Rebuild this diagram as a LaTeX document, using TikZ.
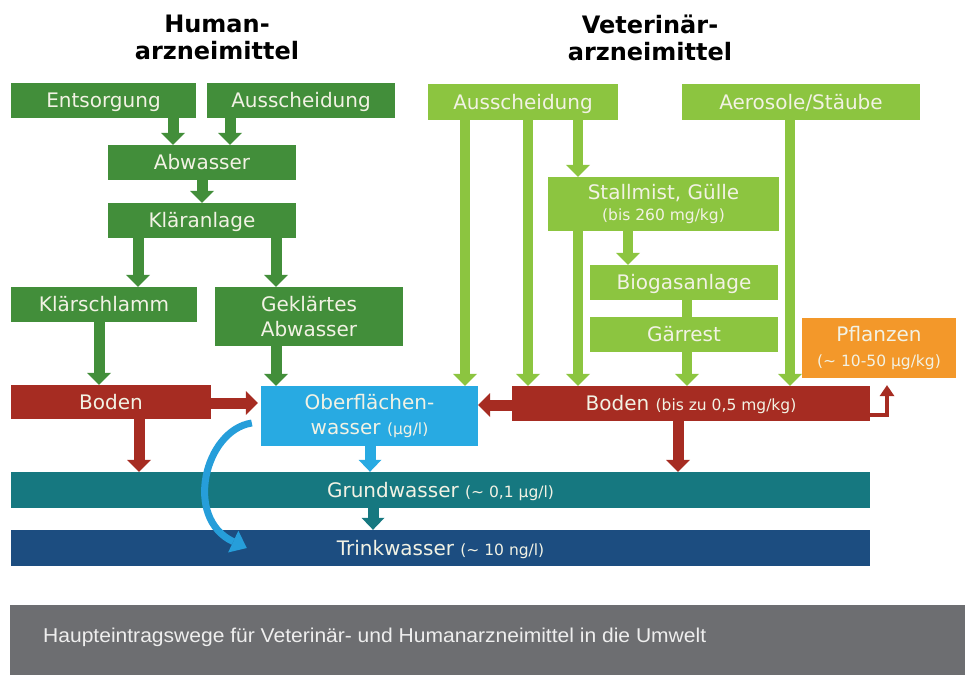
\documentclass[tikz,border=0pt]{standalone}
\usepackage{fontspec}
\usepackage{graphicx}
\setmainfont{DejaVu Sans}
\newfontfamily\capfont{Liberation Sans}
\usetikzlibrary{arrows.meta}
\definecolor{dgreen}{RGB}{66,142,58}
\definecolor{lgreen}{RGB}{140,197,64}
\definecolor{dred}{RGB}{166,44,34}
\definecolor{lblue}{RGB}{40,170,226}
\definecolor{cblue}{RGB}{38,158,218}
\definecolor{teal}{RGB}{22,120,128}
\definecolor{nblue}{RGB}{28,77,128}
\definecolor{orng}{RGB}{243,152,42}
\definecolor{capgray}{RGB}{109,110,113}
\definecolor{captext}{RGB}{238,238,238}
\definecolor{boxtext}{RGB}{242,242,228}
\newcommand\smtxt{\fontsize{15.5}{17}\selectfont}
\tikzset{
  box/.style={rectangle, inner sep=0pt, text=boxtext, font=\fontsize{20}{25}\selectfont},
  one/.style={text height=16pt, text depth=2pt},
  hbox/.style={box, fill=dgreen},
  vbox/.style={box, fill=lgreen},
  titlenode/.style={inner sep=0pt, align=center, font=\fontsize{24}{27}\selectfont\bfseries},
  tip/.style={-{Triangle[width=#1,length=12pt,line width=0pt]}},
  garr/.style={dgreen, line width=11pt, tip=24pt},
  larr/.style={lgreen, line width=10pt, tip=24pt},
  lline/.style={lgreen, line width=10pt},
  rarr/.style={dred, line width=11pt, tip=24pt},
  barr/.style={lblue, line width=11pt, tip=23pt},
  tarr/.style={teal, line width=11pt, tip=23pt},
}
\begin{document}
\begin{tikzpicture}[x=1pt,y=-1pt]
\useasboundingbox (0,0) rectangle (965,675);

% titles
\node[titlenode] (th) at (217,37.5) {Human-\\arzneimittel};
\node[titlenode] (tv) at (650,37.5) {Veterinär-\\arzneimittel};

% human side
\node[hbox, one, minimum width=185pt, minimum height=35pt] (entsorg) at (103.5,100.5) {Entsorgung};
\node[hbox, one, minimum width=188pt, minimum height=35pt] (ausH) at (301,100.5) {Ausscheidung};
\node[hbox, one, minimum width=188pt, minimum height=35pt] (abw) at (202,162.5) {Abwasser};
\node[hbox, one, minimum width=188pt, minimum height=35pt] (klaer) at (202,220.5) {Kläranlage};
\node[hbox, one, minimum width=186pt, minimum height=35pt] (klschl) at (104,304.5) {Klärschlamm};
\node[hbox, align=center, minimum width=188pt, minimum height=59pt] (gekl) at (309,316.5) {Geklärtes\\Abwasser};

% vet side
\node[vbox, one, minimum width=190pt, minimum height=36pt] (ausV) at (523,102) {Ausscheidung};
\node[vbox, one, minimum width=238pt, minimum height=36pt] (aero) at (801,102) {Aerosole/Stäube};
\node[vbox, align=center, minimum width=231pt, minimum height=54pt] (stall) at (663.5,204) {Stallmist, Gülle\\[-4pt]{\smtxt (bis 260 mg/kg)}};
\node[vbox, one, minimum width=188pt, minimum height=35pt] (biogas) at (684,282.5) {Biogasanlage};
\node[vbox, one, minimum width=188pt, minimum height=35pt] (gaer) at (684,334.5) {Gärrest};
\node[box, fill=orng, align=center, minimum width=154pt, minimum height=60pt] (pfl) at (879,348) {Pflanzen\\{\smtxt (\textasciitilde{} 10-50 µg/kg)}};

% soil and water
\node[box, one, fill=dred, minimum width=200pt, minimum height=34pt] (bodenL) at (111,402) {Boden};
\node[box, one, fill=dred, minimum width=358pt, minimum height=35pt] (bodenR) at (691,403.5) {Boden {\smtxt (bis zu 0,5 mg/kg)}};
\node[box, fill=lblue, align=center, minimum width=217pt, minimum height=60pt] (ofw) at (369.5,416) {Oberflächen-\\wasser {\smtxt (µg/l)}};
\node[box, one, fill=teal, minimum width=859pt, minimum height=36pt] (grund) at (440.5,490) {Grundwasser {\smtxt (\textasciitilde{} 0,1 µg/l)}};
\node[box, one, fill=nblue, minimum width=859pt, minimum height=36pt] (trink) at (440.5,548) {Trinkwasser {\smtxt (\textasciitilde{} 10 ng/l)}};

% caption
\node[fill=capgray, inner sep=0pt, minimum width=955pt, minimum height=70pt] (capbar) at (487.5,640) {};
\node[anchor=west, inner sep=0pt, text=captext] (cap) at (43,637) {\resizebox{663pt}{\height}{\capfont\fontsize{20}{22}\selectfont Haupteintragswege für Veterinär- und Humanarzneimittel in die Umwelt}};

% human arrows
\draw[garr] (173,0 |- entsorg.south) -- (173,0 |- abw.north);
\draw[garr] (230,0 |- ausH.south) -- (230,0 |- abw.north);
\draw[garr] (202,0 |- abw.south) -- (202,0 |- klaer.north);
\draw[garr] (138,0 |- klaer.south) -- (138,0 |- klschl.north);
\draw[garr] (276,0 |- klaer.south) -- (276,0 |- gekl.north);
\draw[garr] (99,0 |- klschl.south) -- (99,0 |- bodenL.north);
\draw[garr] (276,0 |- gekl.south) -- (276,0 |- ofw.north);

% vet arrows
\draw[larr] (465,0 |- ausV.south) -- (465,0 |- ofw.north);
\draw[larr] (528,0 |- ausV.south) -- (528,0 |- bodenR.north);
\draw[larr] (578,0 |- ausV.south) -- (578,0 |- stall.north);
\draw[larr] (578,0 |- stall.south) -- (578,0 |- bodenR.north);
\draw[larr] (628,0 |- stall.south) -- (628,0 |- biogas.north);
\draw[lline] (687,0 |- biogas.south) -- (687,0 |- gaer.north);
\draw[larr] (687,0 |- gaer.south) -- (687,0 |- bodenR.north);
\draw[larr] (790,0 |- aero.south) -- (790,0 |- bodenR.north);

% red arrows
\draw[rarr] (bodenL.east |- 0,403) -- ([xshift=-3pt]ofw.west |- 0,403);
\draw[rarr] (139,0 |- bodenL.south) -- (139,0 |- grund.north);
\draw[rarr] (bodenR.west |- 0,405) -- (ofw.east |- 0,405);
\draw[rarr] (678,0 |- bodenR.south) -- (678,0 |- grund.north);
\draw[dred, line width=4pt, -{Triangle[width=15pt,length=11pt,line width=0pt]}]
  ([yshift=6pt]bodenR.south east) -| ([yshift=-7pt]887,0 |- pfl.south);

% water arrows
\draw[barr] (370,0 |- ofw.south) -- (370,0 |- grund.north);
\draw[tarr] (373,0 |- grund.south) -- (373,0 |- trink.north);
\draw[cblue, line width=7pt, -{Triangle[width=24pt,length=15pt,line width=0pt]}]
  ([xshift=-9pt,yshift=-7pt]ofw.west) .. controls (205,430) and (183,518) .. ([xshift=236pt]trink.west);
\end{tikzpicture}
\end{document}
